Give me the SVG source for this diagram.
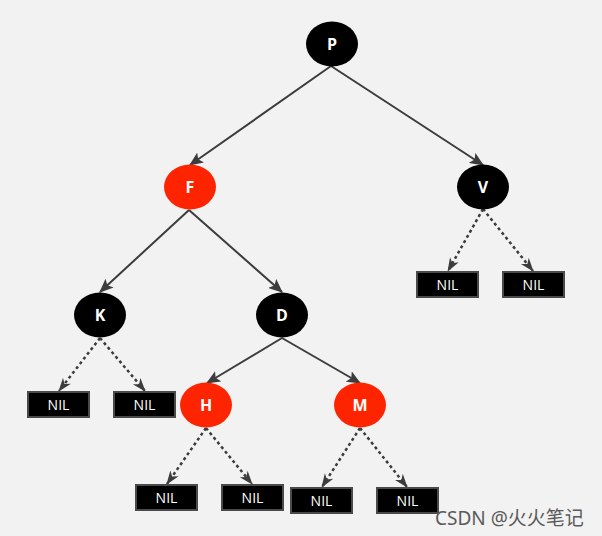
<svg xmlns="http://www.w3.org/2000/svg" width="602" height="536" viewBox="0 0 602 536">
<defs>
<marker id="ah" markerUnits="userSpaceOnUse" markerWidth="14" markerHeight="12" refX="13" refY="6" orient="auto">
<path d="M0,0 L14,6 L0,12 L3,6 Z" fill="#3c3c3c"/>
</marker>
<marker id="ahd" markerUnits="userSpaceOnUse" markerWidth="14" markerHeight="12" refX="13" refY="6" orient="auto">
<path d="M0,1 L14,6 L0,11 L4,6 Z" fill="#3c3c3c"/>
</marker>
</defs>
<style>
.bg{fill:#f2f2f2}
.blk{fill:#000}
.red{fill:#ff2400}
.lbl{font-family:"Open Sans","Liberation Sans",sans-serif;font-weight:bold;font-size:16px;fill:#fff;text-anchor:middle}
.nil rect{fill:#000;stroke:#4a4a4a;stroke-width:2}
.nil text{font-family:"Open Sans","Liberation Sans",sans-serif;font-weight:500;font-size:14px;fill:#fff;text-anchor:middle}
.e{stroke:#3c3c3c;stroke-width:2;fill:none;marker-end:url(#ah)}
.d{stroke:#3c3c3c;stroke-width:2.5;stroke-dasharray:3 3;fill:none;marker-end:url(#ahd)}
.wm{font-family:"Noto Sans","Noto Sans CJK SC",sans-serif;font-size:19px;fill:#5a5a5a}
</style>
<rect class="bg" x="0" y="0" width="602" height="536"/>
<g id="connectors">
<line class="e" x1="331" y1="66" x2="190" y2="165"/>
<line class="e" x1="331" y1="66" x2="483" y2="165"/>
<line class="e" x1="189" y1="210" x2="100" y2="292"/>
<line class="e" x1="189" y1="210" x2="282" y2="292"/>
<line class="e" x1="282" y1="338" x2="207" y2="383"/>
<line class="e" x1="282" y1="338" x2="360" y2="383"/>
<line class="d" x1="483" y1="209" x2="448" y2="271"/>
<line class="d" x1="483" y1="209" x2="533" y2="271"/>
<line class="d" x1="100" y1="338" x2="59" y2="391"/>
<line class="d" x1="100" y1="338" x2="145" y2="391"/>
<line class="d" x1="206" y1="428" x2="167" y2="484"/>
<line class="d" x1="206" y1="428" x2="252" y2="484"/>
<line class="d" x1="360" y1="428" x2="322" y2="487"/>
<line class="d" x1="360" y1="428" x2="407" y2="487"/>
</g>
<g id="P"><ellipse class="blk" cx="332" cy="44" rx="26" ry="22.5"/><text class="lbl" x="332" y="50">P</text></g>
<g id="F"><ellipse class="red" cx="190" cy="187" rx="26" ry="22.5"/><text class="lbl" x="190" y="193">F</text></g>
<g id="V"><ellipse class="blk" cx="483" cy="187" rx="26" ry="22.5"/><text class="lbl" x="483" y="193">V</text></g>
<g id="K"><ellipse class="blk" cx="100" cy="315" rx="26" ry="22.5"/><text class="lbl" x="100" y="321">K</text></g>
<g id="D"><ellipse class="blk" cx="282" cy="315" rx="26" ry="22.5"/><text class="lbl" x="282" y="321">D</text></g>
<g id="H"><ellipse class="red" cx="206" cy="405" rx="26" ry="22.5"/><text class="lbl" x="206" y="411">H</text></g>
<g id="M"><ellipse class="red" cx="360" cy="405" rx="26" ry="22.5"/><text class="lbl" x="360" y="411">M</text></g>
<g id="nil-V1" class="nil"><rect x="417" y="272" width="61" height="25"/><text x="447.5" y="290">NIL</text></g>
<g id="nil-V2" class="nil"><rect x="503" y="272" width="61" height="25"/><text x="533.5" y="290">NIL</text></g>
<g id="nil-K1" class="nil"><rect x="28" y="392" width="61" height="25"/><text x="58.5" y="410">NIL</text></g>
<g id="nil-K2" class="nil"><rect x="114" y="392" width="61" height="25"/><text x="144.5" y="410">NIL</text></g>
<g id="nil-H1" class="nil"><rect x="136" y="485" width="61" height="25"/><text x="166.5" y="503">NIL</text></g>
<g id="nil-H2" class="nil"><rect x="222" y="485" width="61" height="25"/><text x="252.5" y="503">NIL</text></g>
<g id="nil-M1" class="nil"><rect x="291" y="488" width="61" height="25"/><text x="321.5" y="506">NIL</text></g>
<g id="nil-M2" class="nil"><rect x="377" y="488" width="61" height="25"/><text x="407.5" y="506">NIL</text></g>
<text class="wm" x="435" y="525">CSDN @火火笔记</text>
</svg>
